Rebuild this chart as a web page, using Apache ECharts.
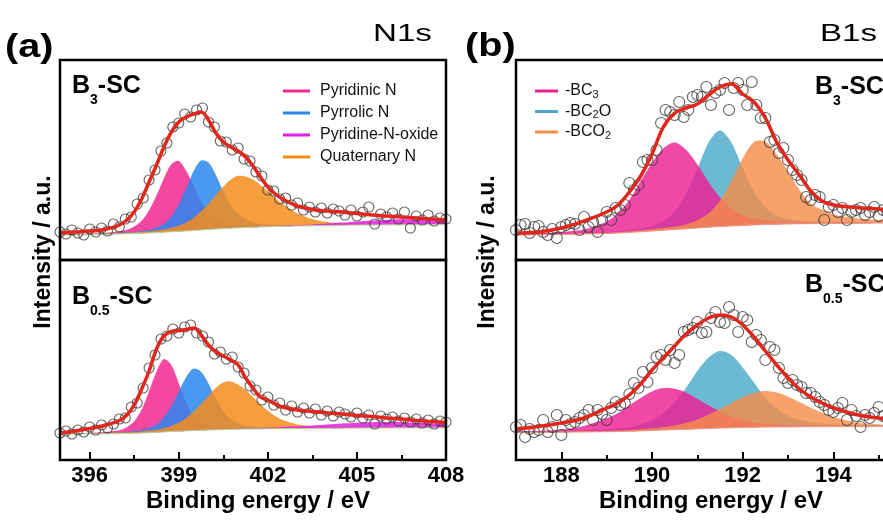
<!DOCTYPE html>
<html><head><meta charset="utf-8">
<script src="https://cdn.jsdelivr.net/npm/echarts@6/dist/echarts.min.js"></script>
<style>html,body{margin:0;padding:0;background:#fff}#c{width:883px;height:523px}</style>
</head><body><div id="c"></div>
<script>
// ---------- N1s (panel a) ----------
const n1sTicks = [396, 399, 402, 405, 408];
const n1sMinorTicks = [397.5, 400.5, 403.5, 406.5];
const n1sNames = ['Pyridinic N', 'Pyrrolic N', 'Pyridine-N-oxide', 'Quaternary N'];
const n1sE = [395,395.5,396,396.5,397,397.25,397.5,397.75,398,398.25,398.5,398.75,399,399.25,399.5,399.75,400,400.25,400.5,400.75,401,401.25,401.5,401.75,402,402.25,402.5,403,403.5,404,404.5,405,405.5,406,406.5,407,407.5,408];
// B3-SC
const n1sTopBaseline = [25,25,25.2,25.5,26,26.2,26.5,26.8,27,27.4,27.8,28.2,28.6,29,29.5,30,30.5,31,31.4,31.8,32.2,32.5,32.8,33.1,33.3,33.5,33.7,34,34.3,34.5,34.7,34.9,35,35.1,35.2,35.3,35.4,35.5];
const n1sTopPyridinic = [0.7,0.9,1.2,1.6,2.8,4,7,12.4,22.7,37,54,67.5,70.5,60,44.5,28.5,16.3,8.9,5.3,3.3,2.3,1.8,1.5,1.3,1.1,0.9,0.8,0.6,0.5,0.4,0.3,0.3,0.2,0.2,0.2,0.1,0.1,0.1];
const n1sTopPyrrolic = [0.4,0.5,0.7,0.9,1.3,1.5,1.8,2.2,3.2,4.9,8.4,15.4,27,43,59.5,69.5,67,54,37,23,14,8.5,5,3.2,2.3,1.8,1.4,1.0,0.8,0.6,0.5,0.4,0.4,0.3,0.3,0.2,0.2,0.2];
const n1sTopNoxide = [0,0,0.1,0.1,0.1,0.1,0.1,0.1,0.1,0.1,0.1,0.1,0.1,0.1,0.1,0.1,0.1,0.15,0.15,0.2,0.2,0.25,0.3,0.35,0.4,0.5,0.6,0.9,1.3,1.9,2.75,3.7,4.6,5.2,5.5,5.2,4.6,3.7];
const n1sTopQuaternary = [0.5,0.6,0.7,0.8,1.0,1.1,1.2,1.5,1.7,2.2,2.8,4,5.7,8.6,12.6,18.4,25.5,34,42,48.5,52,51,47.6,42,35.5,28.6,22.4,12.6,6.8,3.6,2.3,1.6,1.3,1.1,0.9,0.8,0.7,0.6];
const n1sTopFit = [27,28,29,30.5,35,40,48,61,78,95,113,128,138,143,146,148,140,127,118,113,109,103,94,83,73,66,61,54,50.5,49,48,46.5,45,44,43,42,41,40];
// B0.5-SC
const n1sBotBaseline = [26,26,26.1,26.2,26.4,26.5,26.7,27,27.3,27.6,28,28.4,28.8,29.1,29.4,29.7,30,30.2,30.4,30.6,30.8,30.9,31,31.1,31.2,31.3,31.4,31.5,31.6,31.7,31.8,31.9,32,32,32.1,32.1,32.2,32.2];
const n1sBotPyridinic = [0.6,0.8,1.2,1.8,3.4,6.2,12,23.5,41.5,61,73,66.5,47.8,28.5,14.6,7.3,3.9,2.6,2,1.5,1.3,1.1,1.0,0.9,0.8,0.7,0.6,0.5,0.4,0.3,0.3,0.2,0.2,0.2,0.1,0.1,0.1,0.1];
const n1sBotPyrrolic = [0.4,0.5,0.6,0.8,1.2,1.6,2,2.9,4.8,8,14.8,25.5,39.7,54,62,58.6,46.5,31,18.6,10.5,6,3.4,2.4,1.8,1.4,1.2,1.0,0.7,0.5,0.4,0.35,0.3,0.3,0.3,0.2,0.2,0.2,0.2];
const n1sBotNoxide = [0.1,0.1,0.1,0.1,0.1,0.1,0.1,0.15,0.15,0.15,0.2,0.2,0.2,0.2,0.25,0.25,0.3,0.35,0.4,0.45,0.55,0.65,0.75,0.9,1.1,1.3,1.6,2.2,3.0,3.8,4.6,5.3,5.8,6,5.7,5.1,4.4,3.6];
const n1sBotQuaternary = [0.5,0.5,0.6,0.8,1.0,1.2,1.3,1.6,2.1,2.6,3.8,5.5,8.6,13,19.2,26.4,34,42,47,48,44.6,39,32,24.5,18,12.5,8.6,4.1,2.3,1.5,1.2,0.9,0.8,0.7,0.6,0.5,0.5,0.4];
const n1sBotFit = [27,29,31.5,34.5,39.5,45,55,71,89,111,124,128.5,129.5,130.5,132,125,115,108,104,100,95,82,72,63,60,56,53,50,48.5,47,46,44.5,43.5,42,41,39.5,38.5,37.5];
// measured points
const n1sPointE = [395,395.2,395.4,395.6,395.8,396,396.2,396.4,396.6,396.8,397,397.2,397.4,397.6,397.8,398,398.2,398.4,398.6,398.8,399,399.2,399.4,399.6,399.8,400,400.2,400.4,400.6,400.8,401,401.2,401.4,401.6,401.8,402,402.2,402.4,402.6,402.8,403,403.2,403.4,403.6,403.8,404,404.2,404.4,404.6,404.8,405,405.2,405.4,405.6,405.8,406,406.2,406.4,406.6,406.8,407,407.2,407.4,407.6,407.8,408];
const n1sTopPoints = [28,26,30,27,25,31,28,32,29,36,33,41,43,56,62,80,90,109,117,133,137,146,143,150,152,138,133,119,118,110,112,101,99,88,84,70,69,61,62,55,57,50,53,48,52,47,51,49,45,50,44,48,53,36,46,43,47,41,48,32,44,40,45,39,42,41];
const n1sBotPoints = [27,29,26,30,28,33,30,35,32,36,41,42,53,57,72,92,105,121,124,131,127,133,135,127,124,118,106,108,101,103,93,87,74,70,60,63,55,57,50,54,48,52,47,51,45,49,44,48,46,43,47,42,45,36,44,41,43,39,42,38,41,37,40,36,39,38];

// ---------- B1s (panel b) ----------
const b1sTicks = [188, 190, 192, 194, 196];
const b1sMinorTicks = [189, 191, 193, 195];
const b1sNames = ['-BC3', '-BC2O', '-BCO2'];
const b1sE = [187,187.5,188,188.5,189,189.25,189.5,189.75,190,190.25,190.5,190.75,191,191.25,191.5,191.75,192,192.25,192.5,192.75,193,193.25,193.5,193.75,194,194.5,195,195.5,196];
// B3-SC
const b1sTopBaseline = [25,25.2,25.5,26,26.5,27,27.5,28.2,29,29.7,30.5,31.2,32,32.8,33.5,34,34.5,35,35.5,35.8,36,36.2,36.3,36.4,36.5,36.7,37,37,37];
const b1sTopBC3 = [1.4,1.8,2.6,4.5,12,20,32.6,50.5,68,82,87,79,63.5,45,29,17.4,10.4,6.5,4.2,3,2.4,2.1,1.8,1.6,1.4,1.1,0.9,0.7,0.6];
const b1sTopBC2O = [0.5,0.6,0.9,1.2,1.6,1.9,2.5,3.3,4.8,9,18,35,59,85,96,83.5,57.5,33,17,8.6,4.8,3.2,2.4,1.9,1.6,1.2,0.9,0.7,0.5];
const b1sTopBCO2 = [0.4,0.5,0.6,0.7,0.9,1.1,1.3,1.5,1.8,2.3,2.9,4.3,7.7,14,26,45,67,83,83,70,52.5,34,20,14,9,5,3,2,1.5];
const b1sTopFit = [27,28,32,39,48,55,68,84,106,133,147,152,156,165,173,176,166,158,142,118,100,85,69,59,55,52.5,51,50,49.5];
// B0.5-SC
const b1sBotBaseline = [27.5,27.6,27.8,28,28.3,28.5,28.8,29.1,29.5,29.9,30.3,30.7,31.1,31.5,31.9,32.2,32.5,32.7,32.9,33,33.1,33.2,33.3,33.3,33.4,33.4,33.5,33.5,33.5];
const b1sBotBC3 = [1.1,1.5,2.7,6.1,13.4,18.5,26,33,39,42,41,36.8,30,23,16.8,11.3,7.6,4.8,3.4,2.4,1.8,1.5,1.3,1.1,1.0,0.8,0.6,0.5,0.4];
const b1sBotBC2O = [0.8,0.9,1.2,1.6,2.3,2.9,4,6.3,10,17,27.7,41.6,58,71,77,72.8,60,44.7,29,18.4,11,7,4.5,3.1,2.4,1.6,1.2,1.0,0.8];
const b1sBotBCO2 = [0.4,0.5,0.6,0.7,0.9,1.0,1.2,1.6,2.2,3,4.1,6.5,9.5,13.9,19,24.8,30.2,34.4,36,34.4,30.2,24.8,19,13.9,9.5,4.1,2.2,1.2,0.9];
const b1sBotFit = [31,33.5,37,42,52,57,65,76,90,102,114,126,135,142,145,143,135,123,109,95,82,71,63,57,52,45.5,42,40.5,39.5];
// measured points
const b1sPointE = [187,187.1,187.2,187.3,187.4,187.5,187.6,187.7,187.8,187.9,188,188.1,188.2,188.3,188.4,188.5,188.6,188.7,188.8,188.9,189,189.1,189.2,189.3,189.4,189.5,189.6,189.7,189.8,189.9,190,190.1,190.2,190.3,190.4,190.5,190.6,190.7,190.8,190.9,191,191.1,191.2,191.3,191.4,191.5,191.6,191.7,191.8,191.9,192,192.1,192.2,192.3,192.4,192.5,192.6,192.7,192.8,192.9,193,193.1,193.2,193.3,193.4,193.5,193.6,193.7,193.8,193.9,194,194.1,194.2,194.3,194.4,194.5,194.6,194.7,194.8,194.9,195,195.1,195.2];
const b1sTopPoints = [30,35,36,27,33,34,28,25,31,22,33,35,37,36,30,43,33,38,28,40,48,40,52,50,55,77,70,75,98,100,100,110,137,150,148,145,158,143,150,163,165,163,173,155,167,170,177,150,172,177,170,155,178,155,142,142,118,120,107,112,100,90,85,80,63,60,65,63,40,53,55,48,52,40,48,50,52,45,48,53,44,50,47];
const b1sBotPoints = [33,35,23,31,28,30,40,28,33,45,25,40,36,38,42,45,50,40,50,46,40,52,58,55,57,66,77,72,88,78,92,103,105,100,110,97,105,128,130,132,138,127,128,142,148,138,137,153,145,128,143,140,118,125,120,100,113,110,92,82,77,80,75,73,67,67,63,58,55,50,48,52,57,40,50,44,33,45,42,47,53,44,41];

// ---------- styling ----------
const FONT = '"Liberation Sans", Arial, Helvetica, sans-serif';
const COLORS = {
  'Pyridinic N': '#f2288f', 'Pyrrolic N': '#2a87ee', 'Pyridine-N-oxide': '#e21ee0', 'Quaternary N': '#f48c1c',
  '-BC3': '#ee1f93', '-BC2O': '#4aa9c9', '-BCO2': '#f58c4a'
};
const mainX = [0, 1, 3, 4];

const panels = [
  {g: 0, E: n1sE, base: n1sTopBaseline, comps: [['Pyridinic N', n1sTopPyridinic], ['Pyrrolic N', n1sTopPyrrolic], ['Quaternary N', n1sTopQuaternary], ['Pyridine-N-oxide', n1sTopNoxide]], fit: n1sTopFit, pE: n1sPointE, pts: n1sTopPoints, sym: 10, baseColor: '#b8dca0', op: 0.85},
  {g: 1, E: n1sE, base: n1sBotBaseline, comps: [['Pyridinic N', n1sBotPyridinic], ['Pyrrolic N', n1sBotPyrrolic], ['Quaternary N', n1sBotQuaternary], ['Pyridine-N-oxide', n1sBotNoxide]], fit: n1sBotFit, pE: n1sPointE, pts: n1sBotPoints, sym: 10, baseColor: '#b8dca0', op: 0.85},
  {g: 2, E: b1sE, base: b1sTopBaseline, comps: [['-BC2O', b1sTopBC2O], ['-BC3', b1sTopBC3], ['-BCO2', b1sTopBCO2]], fit: b1sTopFit, pE: b1sPointE, pts: b1sTopPoints, sym: 11, baseColor: '#ee9a8a', op: 0.82},
  {g: 3, E: b1sE, base: b1sBotBaseline, comps: [['-BC2O', b1sBotBC2O], ['-BC3', b1sBotBC3], ['-BCO2', b1sBotBCO2]], fit: b1sBotFit, pE: b1sPointE, pts: b1sBotPoints, sym: 11, baseColor: '#ee9a8a', op: 0.82}
];

const series = [];
panels.forEach(p => {
  const xi = mainX[p.g];
  p.comps.forEach(([name, comp]) => {
    const color = COLORS[name];
    series.push({
      type: 'custom', name: name, xAxisIndex: xi, yAxisIndex: p.g, clip: true, silent: true,
      itemStyle: {color: color},
      data: [[p.E[0], p.base[0]]],
      z: 2,
      renderItem: function (params, api) {
        const pts = [];
        for (let i = 0; i < p.E.length; i++) pts.push(api.coord([p.E[i], p.base[i] + comp[i]]));
        for (let i = p.E.length - 1; i >= 0; i--) pts.push(api.coord([p.E[i], p.base[i]]));
        return {type: 'polygon', shape: {points: pts, smooth: 0.3}, style: {fill: color, opacity: p.op}};
      }
    });
  });
  series.push({
    type: 'line', xAxisIndex: xi, yAxisIndex: p.g, silent: true, symbol: 'none', smooth: 0.3, z: 3,
    data: p.E.map((e, i) => [e, p.base[i]]), lineStyle: {color: p.baseColor, width: 1}
  });
  series.push({
    type: 'scatter', xAxisIndex: xi, yAxisIndex: p.g, silent: true, symbol: 'circle', symbolSize: p.sym, z: 4, clip: true,
    data: p.pE.map((e, i) => [e, p.pts[i]]),
    itemStyle: {color: 'rgba(255,255,255,0)', borderColor: '#3a3a3a', borderWidth: 1.1}
  });
  series.push({
    type: 'line', xAxisIndex: xi, yAxisIndex: p.g, silent: true, symbol: 'none', smooth: 0.4, z: 5, clip: true,
    data: p.E.map((e, i) => [e, p.fit[i]]), lineStyle: {color: '#e1261c', width: 3.5}
  });
});

function gridBox(left, top, width) {
  return {left: left, top: top, width: width, height: 200, show: true, borderColor: '#000', borderWidth: 2.5,
    backgroundColor: 'transparent', z: 10, containLabel: false, outerBoundsMode: 'none'};
}
function hiddenX(g, min, max) { return {gridIndex: g, type: 'value', min: min, max: max, show: false}; }
function majorX(g, min, max, ticks) {
  return {gridIndex: g, type: 'value', min: min, max: max, position: 'bottom', z: 10,
    axisLine: {show: false}, splitLine: {show: false},
    axisTick: {show: true, inside: true, length: 8, lineStyle: {color: '#000', width: 2}, customValues: ticks},
    axisLabel: {show: true, customValues: ticks, fontSize: 22, fontWeight: 'bold', color: '#000', fontFamily: FONT, margin: 5}};
}
function minorX(g, min, max, ticks) {
  return {gridIndex: g, type: 'value', min: min, max: max, position: 'bottom', z: 10,
    axisLine: {show: false}, splitLine: {show: false}, axisLabel: {show: false},
    axisTick: {show: true, inside: true, length: 5, lineStyle: {color: '#000', width: 2}, customValues: ticks}};
}

function sampleLabel(x, y, sub) {
  return {type: 'text', x: x, y: y, z: 20, style: {
    text: '{b|B}{s|' + sub + '}{b|-SC}', align: 'left', verticalAlign: 'middle',
    rich: {
      b: {fontSize: 25, fontWeight: 'bold', fontFamily: FONT, lineHeight: 42, fill: '#000'},
      s: {fontSize: 14, fontWeight: 'bold', fontFamily: FONT, lineHeight: 14, verticalAlign: 'bottom', fill: '#000'}
    }}};
}
function plainText(x, y, text, size, weight, align, extra) {
  return Object.assign({type: 'text', x: x, y: y, z: 20, style: {text: text, fontSize: size, fontWeight: weight, fontFamily: FONT, fill: '#000', align: align, verticalAlign: 'middle'}}, extra || {});
}

const legendText = {fontSize: 16, color: '#111', fontFamily: FONT, lineHeight: 18};
const option = {
  animation: false,
  backgroundColor: '#fff',
  grid: [gridBox(60, 60, 386), gridBox(60, 260, 386), gridBox(516, 60, 408), gridBox(516, 260, 408)],
  xAxis: [
    hiddenX(0, 395, 408),
    majorX(1, 395, 408, n1sTicks),
    minorX(1, 395, 408, n1sMinorTicks),
    hiddenX(2, 187, 196),
    majorX(3, 187, 196, b1sTicks),
    minorX(3, 187, 196, b1sMinorTicks)
  ],
  yAxis: [0, 1, 2, 3].map(g => ({gridIndex: g, type: 'value', min: 0, max: 200, show: false})),
  legend: [
    {left: 278, top: 77, orient: 'vertical', icon: 'rect', itemWidth: 27, itemHeight: 3, itemGap: 4, selectedMode: false,
     data: n1sNames.map(n => ({name: n, itemStyle: {color: COLORS[n]}})),
     textStyle: Object.assign({padding: [0, 0, 0, 5]}, legendText)},
    {left: 530, top: 77, orient: 'vertical', icon: 'rect', itemWidth: 23, itemHeight: 3, itemGap: 2.5, selectedMode: false,
     data: b1sNames.map(n => ({name: n, itemStyle: {color: COLORS[n]}})),
     formatter: n => n.replace(/(\d)/, '{s|$1}'),
     textStyle: Object.assign({padding: [0, 0, 0, 2], rich: {s: {fontSize: 11, fontFamily: FONT, color: '#111', lineHeight: 12, verticalAlign: 'bottom'}}}, legendText)}
  ],
  graphic: {elements: [
    plainText(5, 48, '(a)', 33, 'bold', 'left', {scaleX: 1.2}),
    plainText(373, 34, 'N1s', 24, 'normal', 'left', {scaleX: 1.38}),
    plainText(465, 47, '(b)', 33, 'bold', 'left', {scaleX: 1.2}),
    plainText(820, 34, 'B1s', 24, 'normal', 'left', {scaleX: 1.38}),
    plainText(44, 252, 'Intensity / a.u.', 23, 'bold', 'center', {rotation: Math.PI / 2}),
    plainText(488, 252, 'Intensity / a.u.', 23, 'bold', 'center', {rotation: Math.PI / 2}),
    plainText(258, 501, 'Binding energy / eV', 24, 'bold', 'center'),
    plainText(711, 501, 'Binding energy / eV', 24, 'bold', 'center'),
    sampleLabel(72, 86, '3'),
    sampleLabel(72, 297, '0.5'),
    sampleLabel(815, 87, '3'),
    sampleLabel(805, 285, '0.5')
  ]},
  series: series
};

const chart = echarts.init(document.getElementById('c'), null, {renderer: 'canvas', width: 883, height: 523});
chart.setOption(option);
</script>
</body></html>
